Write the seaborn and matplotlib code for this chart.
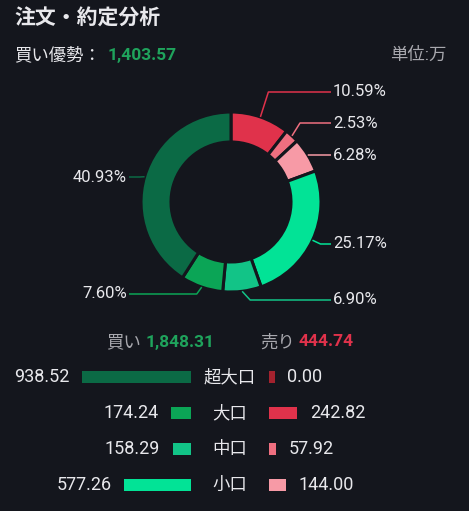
import numpy as np
import pandas as pd
import seaborn as sns
import matplotlib.pyplot as plt

# Data
sizes = ['超大口', '大口', '中口', '小口']
buy_vals = [938.52, 174.24, 158.29, 577.26]
sell_vals = [0.00, 242.82, 57.92, 144.00]
buy_colors = ['#0b6a45', '#0ba556', '#12c487', '#02e396']
sell_colors = ['#a3222e', '#e0324b', '#ef6f80', '#f79aa6']

BG = '#14161d'
TXT = '#e8e8ec'
GREEN = '#1fa35c'
RED = '#e0324b'
W, H = 469, 511
FS = 12.5

sns.set_theme(style='dark', rc={'figure.facecolor': BG, 'axes.facecolor': BG})
plt.rcParams['font.family'] = ['Roboto', 'Noto Sans CJK JP', 'DejaVu Sans']

fig = plt.figure(figsize=(W / 100, H / 100), dpi=100)


def ftext(x, y, s, **kw):
    fig.text(x / W, 1 - y / H, s, **kw)


# Header
ftext(14, 19, '注文・約定分析', fontsize=15, fontweight='bold', color=TXT, va='center')
ftext(14, 55, '買い優勢：', fontsize=FS, color=TXT, va='center')
ftext(108, 55, f'{sum(buy_vals) - sum(sell_vals):,.2f}', fontsize=FS,
      fontweight='bold', color=GREEN, va='center')
ftext(446, 55, '単位:万', fontsize=FS, color='#a8a8ae', va='center', ha='right')

# Donut (data unit = 90 px, centre at 231, 202)
cx, cy, R = 231, 202, 90
pax = fig.add_axes([0, 0, 1, 1])
pie_vals = sell_vals + buy_vals[::-1]
pie_cols = sell_colors + buy_colors[::-1]
wedges, _ = pax.pie(pie_vals, colors=pie_cols, startangle=90, counterclock=False,
                    radius=1.0, wedgeprops=dict(width=1 / 3, edgecolor=BG, linewidth=2.2))
pax.set_xlim(-cx / R, (W - cx) / R)
pax.set_ylim(-(H - cy) / R, cy / R)
pax.set_aspect('equal')
pax.axis('off')

total = sum(pie_vals)
pcts = [v / total * 100 for v in pie_vals]
# label rows (pixel y) for each non-zero wedge, clockwise from top
label_y = [None, 92, 123, 155, 244, 300, 294, 177]
for w, p, c, ly in zip(wedges, pcts, pie_cols, label_y):
    if ly is None:
        continue
    mid = np.deg2rad((w.theta1 + w.theta2) / 2)
    sx, sy = np.cos(mid), np.sin(mid)
    ey = (cy - ly) / R
    right = sx >= 0
    ex = sx + (8 if right else -5) / R
    tx = (331 - cx) / R if right else (129 - cx) / R
    pax.plot([sx, ex, tx], [sy, ey, ey], color=c, lw=1.1, solid_capstyle='butt')
    pax.text(tx + (2 / R if right else -2 / R), ey, f'{p:.2f}%', color=TXT,
             fontsize=12, va='center', ha='left' if right else 'right')

# Buy / sell totals
ftext(106, 342, '買い', fontsize=FS, color='#a8a8ae', va='center')
ftext(146, 342, f'{sum(buy_vals):,.2f}', fontsize=FS, fontweight='bold', color=GREEN, va='center')
ftext(260, 342, '売り', fontsize=FS, color='#a8a8ae', va='center')
ftext(299, 342, f'{sum(sell_vals):,.2f}', fontsize=FS, fontweight='bold', color=RED, va='center')

# Bars
df = pd.DataFrame({'size': sizes, 'buy': buy_vals, 'sell': sell_vals})
df['sell_draw'] = np.maximum(df['sell'], 50)
scale = 1129
rows_top, rows_bot = 359, 503
lax = fig.add_axes([60 / W, 1 - rows_bot / H, 131 / W, (rows_bot - rows_top) / H])
rax = fig.add_axes([269 / W, 1 - rows_bot / H, 131 / W, (rows_bot - rows_top) / H])
sns.barplot(data=df, x='buy', y='size', hue='size', palette=dict(zip(sizes, buy_colors)),
            orient='h', width=0.31, legend=False, ax=lax, saturation=1, linewidth=0)
sns.barplot(data=df, x='sell_draw', y='size', hue='size', palette=dict(zip(sizes, sell_colors)),
            orient='h', width=0.31, legend=False, ax=rax, saturation=1, linewidth=0)
lax.set_xlim(scale, 0)
rax.set_xlim(0, scale)
for ax in (lax, rax):
    ax.set_ylim(3.5, -0.5)
    ax.axis('off')

for i, row in df.iterrows():
    lax.annotate(f"{row['buy']:.2f}", (row['buy'], i), xytext=(-9, 0),
                 textcoords='offset points', ha='right', va='center',
                 color=TXT, fontsize=13, annotation_clip=False)
    rax.annotate(f"{row['sell']:.2f}", (row['sell_draw'], i), xytext=(9, 0),
                 textcoords='offset points', ha='left', va='center',
                 color=TXT, fontsize=13, annotation_clip=False)
    ftext(230, 377 + 36 * i, row['size'], ha='center', va='center', color=TXT, fontsize=FS)

fig.savefig('out.png', dpi=100, facecolor=BG)
